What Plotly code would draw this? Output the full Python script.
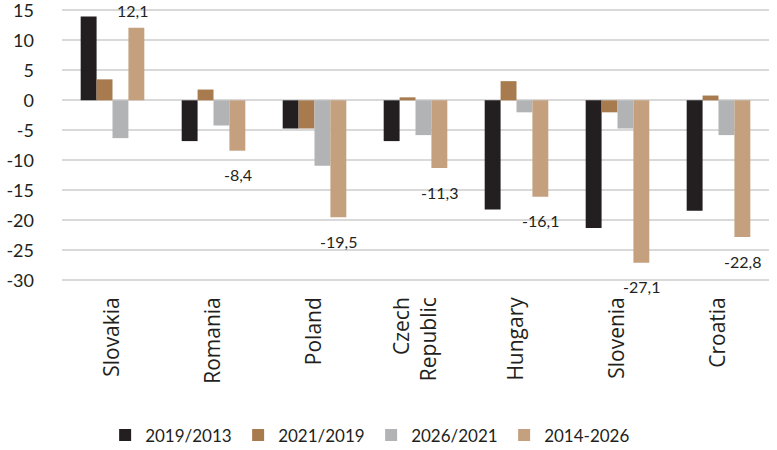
import plotly.graph_objects as go

countries = ["Slovakia", "Romania", "Poland", "Czech<br>Republic", "Hungary", "Slovenia", "Croatia"]
series_names = ["2019/2013", "2021/2019", "2026/2021", "2014-2026"]
v_2019_2013 = [14.0, -6.8, -4.7, -6.8, -18.2, -21.3, -18.4]
v_2021_2019 = [3.5, 1.8, -4.7, 0.5, 3.2, -2.0, 0.8]
v_2026_2021 = [-6.3, -4.2, -10.9, -5.8, -2.0, -4.7, -5.8]
v_2014_2026 = [12.1, -8.4, -19.5, -11.3, -16.1, -27.1, -22.8]
colors = ["#231f20", "#a87b4f", "#b2b3b5", "#c5a07e"]
y_ticks = [-30, -25, -20, -15, -10, -5, 0, 5, 10, 15]

fig = go.Figure()
for name, vals, col in zip(series_names, [v_2019_2013, v_2021_2019, v_2026_2021, v_2014_2026], colors):
    fig.add_trace(go.Bar(
        x=countries, y=vals, name=name,
        marker=dict(color=col, line=dict(width=0)),
    ))

# value labels for the 2014-2026 series, placed over the last bar of each group
for c, v in zip(countries, v_2014_2026):
    label = f"{v:.1f}".replace(".", ",")
    fig.add_annotation(
        x=c, y=v, text=label, showarrow=False,
        xshift=20 if v > 0 else 24,
        yshift=17 if v > 0 else -24,
        font=dict(family="Lato", size=16, color="#231f20"),
        xref="x", yref="y",
    )

fig.update_layout(
    width=777, height=450,
    margin=dict(l=62, r=8, t=8, b=168, autoexpand=False),
    paper_bgcolor="white", plot_bgcolor="white",
    barmode="group", bargap=0.37, bargroupgap=0,
    font=dict(family="Lato", color="#231f20"),
    xaxis=dict(
        tickangle=-90, showgrid=False, zeroline=False, showline=False,
        tickfont=dict(family="Open Sans", size=21, color="#231f20"),
        ticks="", automargin=False, ticklabelstandoff=10,
    ),
    yaxis=dict(
        range=[-30.3, 15.4], tickmode="array", tickvals=y_ticks,
        ticktext=[str(t) for t in y_ticks],
        showgrid=True, gridcolor="#d9d9d9", gridwidth=1.5,
        zeroline=True, zerolinecolor="#d9d9d9", zerolinewidth=1.5,
        showline=False, ticks="", automargin=False,
        tickfont=dict(family="Lato", size=18, color="#231f20"),
        ticklabelstandoff=27, ticklabeloverflow="allow",
    ),
    legend=dict(
        orientation="h", x=0.061, xanchor="left", y=-0.56, yanchor="middle",
        font=dict(family="Lato", size=17, color="#231f20"),
        entrywidth=88, itemwidth=30,
    ),
)

fig.write_html("out.html")
